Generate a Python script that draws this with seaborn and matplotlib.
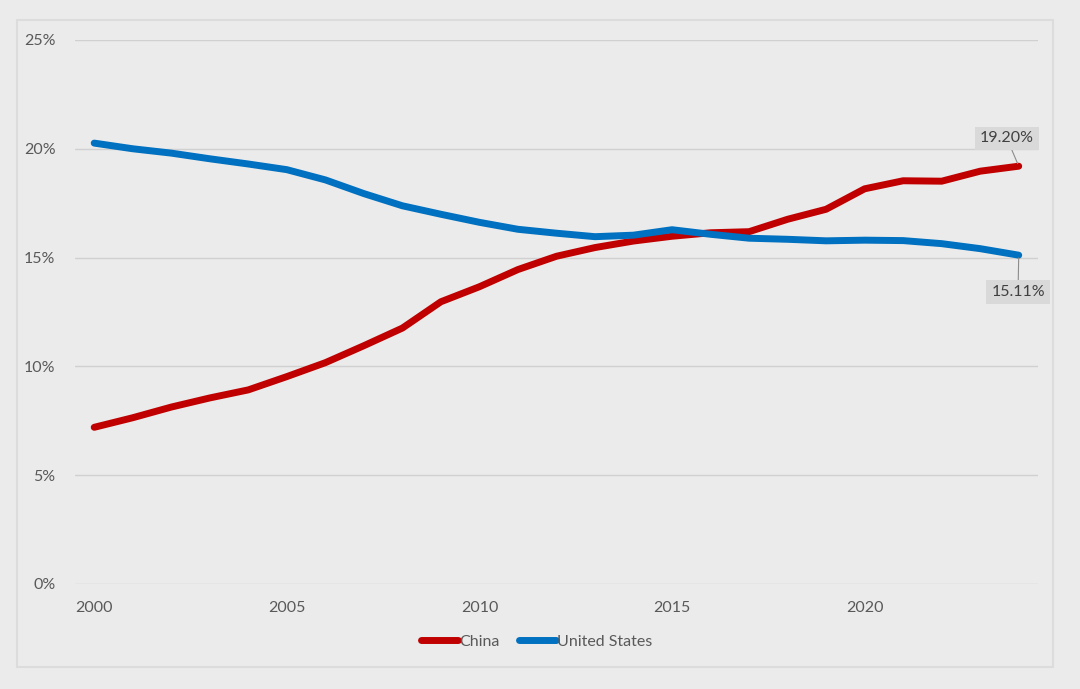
import matplotlib
matplotlib.use("Agg")
import matplotlib.pyplot as plt
import matplotlib.patches as mpatches
from matplotlib.ticker import PercentFormatter
import pandas as pd
import seaborn as sns

# Share of world total, 2000-2024 (fractions)
years = list(range(2000, 2025))
china = [0.0720, 0.0764, 0.0813, 0.0855, 0.0892, 0.0953, 0.1017, 0.1095, 0.1176, 0.1297,
         0.1366, 0.1445, 0.1506, 0.1546, 0.1576, 0.1598, 0.1614, 0.1619, 0.1676, 0.1722,
         0.1816, 0.1853, 0.1851, 0.1897, 0.1920]
united_states = [0.2026, 0.2000, 0.1980, 0.1954, 0.1930, 0.1904, 0.1857, 0.1794, 0.1738, 0.1699,
                 0.1662, 0.1630, 0.1612, 0.1596, 0.1603, 0.1628, 0.1607, 0.1589, 0.1584, 0.1577,
                 0.1580, 0.1578, 0.1564, 0.1541, 0.1511]
series_names = ["China", "United States"]
series_colors = ["#C00000", "#0070C0"]
y_ticks = [0, 0.05, 0.10, 0.15, 0.20, 0.25]
x_ticks = [2000, 2005, 2010, 2015, 2020]

df = pd.DataFrame({
    "year": years * 2,
    "share": china + united_states,
    "country": [series_names[0]] * len(years) + [series_names[1]] * len(years),
})

bg = "#EBEBEB"
text_gray = "#595959"

sns.set_theme(style="white")
plt.rcParams["font.family"] = ["Lato", "DejaVu Sans"]

fig = plt.figure(figsize=(10.8, 6.89), dpi=100, facecolor=bg)
ax = fig.add_axes([0.0694, 0.1524, 0.8917, 0.7896])
ax.set_facecolor(bg)

# outer chart frame
fig.patches.append(mpatches.Rectangle((17 / 1080, 1 - 667 / 689), 1036 / 1080, 647 / 689,
                                      transform=fig.transFigure, fill=False,
                                      edgecolor="#DCDCDC", linewidth=1.5, zorder=0))

sns.lineplot(data=df, x="year", y="share", hue="country", palette=series_colors,
             linewidth=5, solid_capstyle="round", ax=ax, legend=False)

ax.set_xlim(1999.5, 2024.5)
ax.set_ylim(0, 0.25)
ax.set_yticks(y_ticks)
ax.set_xticks(x_ticks)
ax.yaxis.set_major_formatter(PercentFormatter(1.0, decimals=0))
ax.grid(axis="y", color="#D0D0D0", linewidth=1)
ax.set_axisbelow(True)
for s in ax.spines.values():
    s.set_visible(False)
ax.tick_params(axis="both", length=0, labelsize=11.5, labelcolor=text_gray)
ax.tick_params(axis="y", pad=14)
ax.tick_params(axis="x", pad=12)
ax.set_xlabel("")
ax.set_ylabel("")

# end-point labels
box = dict(boxstyle="square,pad=0.3", facecolor="#D9D9D9", edgecolor="none")
arrow = dict(arrowstyle="-", color="#8C8C8C", linewidth=0.8, shrinkA=0, shrinkB=2)
ax.annotate(f"{china[-1] * 100:.2f}%", (years[-1], china[-1]), xytext=(-8.5, 20),
            textcoords="offset points", ha="center", va="center", fontsize=11.5,
            color="#404040", bbox=box, arrowprops=arrow)
ax.annotate(f"{united_states[-1] * 100:.2f}%", (years[-1], united_states[-1]), xytext=(-0.5, -26.5),
            textcoords="offset points", ha="center", va="center", fontsize=11.5,
            color="#404040", bbox=box, arrowprops=arrow)

handles = [plt.Line2D([], [], color=c, linewidth=5, solid_capstyle="round") for c in series_colors]
fig.legend(handles, series_names, loc="center", bbox_to_anchor=(0.497, 1 - 642 / 689), ncol=2,
           frameon=False, fontsize=11.5, labelcolor=text_gray, handlelength=2.3,
           handletextpad=0.1, columnspacing=1.2)

fig.savefig("out.png", dpi=100, facecolor=bg)
